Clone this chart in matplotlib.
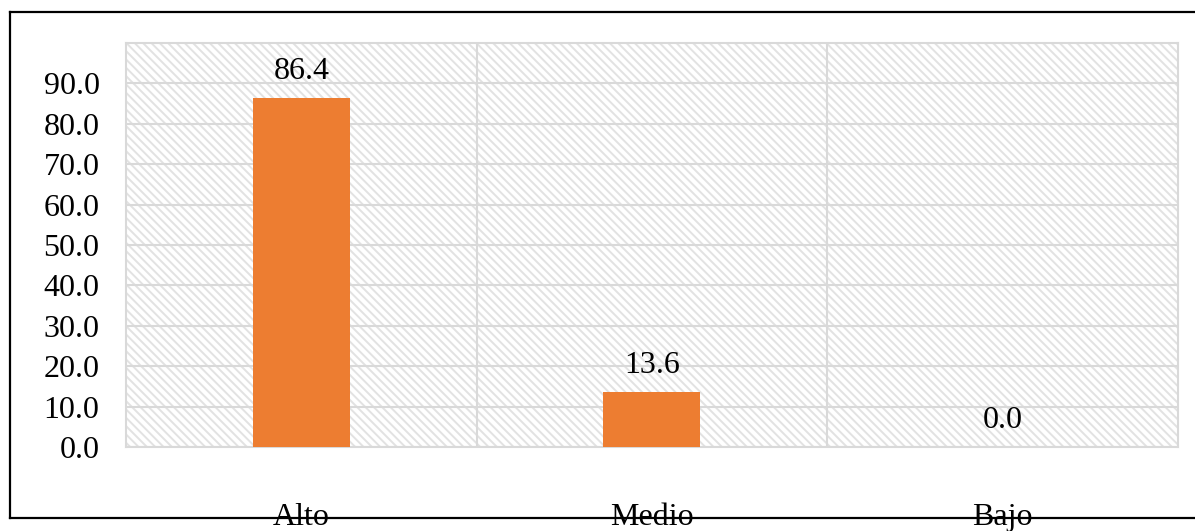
import matplotlib.pyplot as plt
from matplotlib.lines import Line2D
from matplotlib.patches import Rectangle

categories = ["Alto", "Medio", "Bajo"]
values = [86.4, 13.6, 0.0]
yticks = [0, 10, 20, 30, 40, 50, 60, 70, 80, 90]

plt.rcParams["font.family"] = ["Liberation Serif", "DejaVu Serif"]
plt.rcParams["hatch.linewidth"] = 1.4

fig = plt.figure(figsize=(11.95, 5.31), dpi=100)
ax = fig.add_axes([0.1054, 0.1582, 0.8803, 0.7608])

# patterned plot area background
bg = Rectangle((0, 0), 1, 1, transform=ax.transAxes, facecolor="white",
               edgecolor="#e2e2e2", hatch="\\\\\\\\", linewidth=0, zorder=0)
ax.add_patch(bg)

x = range(len(categories))
bars = ax.bar(x, values, width=0.277, color="#ED7D31", zorder=3)

for b, v in zip(bars, values):
    ax.annotate(f"{v:.1f}", (b.get_x() + b.get_width() / 2, v),
                xytext=(0, 13.5), textcoords="offset points",
                ha="center", va="baseline", fontsize=23, zorder=4)

ax.set_xlim(-0.5, len(categories) - 0.5)
ax.set_ylim(0, 100)
ax.set_yticks(yticks)
ax.set_yticklabels([f"{t:.1f}" for t in yticks], fontsize=23)
ax.set_xticks(x)
ax.set_xticklabels(categories, fontsize=23)
ax.set_xticks([0.5, 1.5], minor=True)

ax.grid(axis="y", which="major", color="#d9d9d9", linewidth=1.5, zorder=1)
ax.grid(axis="x", which="minor", color="#d9d9d9", linewidth=1.5, zorder=1)
ax.set_axisbelow(True)
ax.tick_params(axis="both", which="both", length=0)
ax.tick_params(axis="y", pad=19)
ax.tick_params(axis="x", pad=40)
for s in ax.spines.values():
    s.set_color("#d9d9d9")
    s.set_linewidth(1.5)

# outer chart border
fig.add_artist(Line2D([0.0084, 0.0084], [0.0245, 0.9774], color="black", lw=1.6))
fig.add_artist(Line2D([0.0084, 1.0], [0.9774, 0.9774], color="black", lw=1.6))
fig.add_artist(Line2D([0.0084, 1.0], [0.0245, 0.0245], color="black", lw=1.6, zorder=5))

fig.savefig("out.png", dpi=100)
